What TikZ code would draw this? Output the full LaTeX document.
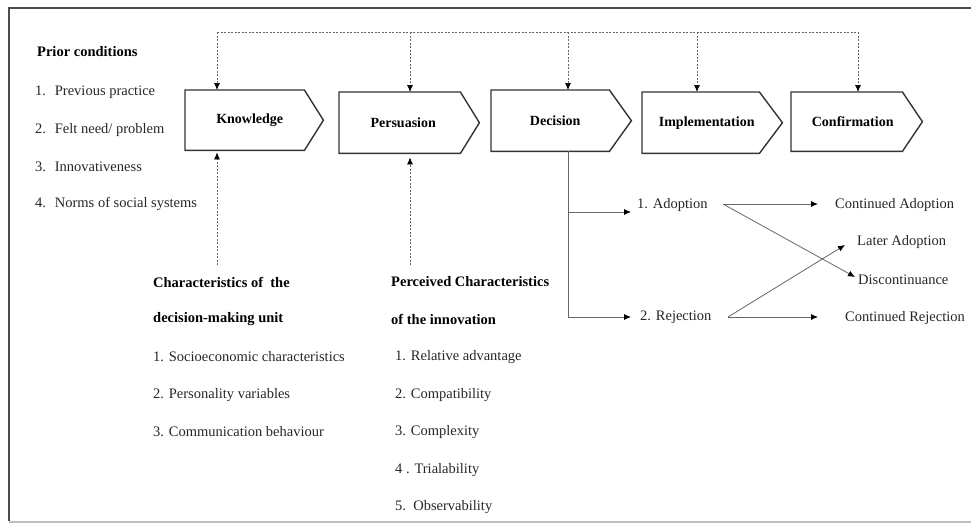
\documentclass[tikz,border=0pt]{standalone}
\usepackage{fontspec}
\setmainfont{Liberation Serif}
\usetikzlibrary{arrows.meta,calc}
\begin{document}
\begin{tikzpicture}[x=1pt,y=-1pt,
  txt/.style={anchor=west,inner sep=0pt,font=\fontsize{14.5}{17}\selectfont,text=black!85},
  hd/.style={anchor=west,inner sep=0pt,font=\fontsize{14.5}{17}\selectfont\bfseries,text=black},
  stage/.style={anchor=north west,inner sep=0pt,font=\fontsize{14}{17}\selectfont\bfseries},
  outline/.style={draw=black!80,line width=1.4pt,line join=miter},
  dl/.style={draw=black!60,line width=0.7pt,dash pattern=on 2pt off 1.5pt},
  sl/.style={draw=black!60,line width=0.8pt},
  tip/.style={-{Latex[length=7pt,width=6pt,black]}},
]
\useasboundingbox (0,0) rectangle (971,523);
% frame
\draw[black!70,line width=2.4pt] (971,8) -- (9,8) -- (9,521);
\draw[black!25,line width=2pt] (9,521.5) -- (971,521.5);

% stage boxes
\node[stage,minimum width=119pt,minimum height=60pt] (kn) at (185,90) {\hspace*{10pt}Knowledge};
\node[stage,minimum width=121pt,minimum height=61pt] (pe) at (339,92) {\hspace*{7pt}Persuasion};
\node[stage,minimum width=118pt,minimum height=61pt] (de) at (491,90) {\hspace*{10pt}Decision};
\node[stage,minimum width=117pt,minimum height=61pt] (im) at (642,92) {\hspace*{12pt}Implementation};
\node[stage,minimum width=111pt,minimum height=59pt] (co) at (791,92) {\hspace*{12pt}Confirmation};
\foreach \n/\t in {kn/19,pe/19,de/22,im/23,co/20}
  \draw[outline] (\n.north west) -- (\n.north east) -- ($(\n.east)+(\t,0)$) -- (\n.south east) -- (\n.south west) -- cycle;

% prior conditions
\node[hd] (pc) at (37,52) {Prior conditions};
\node[txt] (pc1) at (35,92) {1.\hspace{4pt} Previous practice};
\node[txt] (pc2) at (35,130) {2.\hspace{4pt} Felt need/ problem};
\node[txt] (pc3) at (35,167) {3.\hspace{4pt} Innovativeness};
\node[txt] (pc4) at (35,204) {4.\hspace{4pt} Norms of social systems};

% decision-making unit
\node[hd] (du0) at (153,282) {Characteristics of\ \ the};
\node[hd] (du1) at (153,319) {decision-making unit};
\node[txt] (du2) at (153,357) {1. Socioeconomic characteristics};
\node[txt] (du3) at (153,395) {2. Personality variables};
\node[txt] (du4) at (153,432) {3. Communication behaviour};

% perceived characteristics
\node[hd] (pk0) at (391,282) {Perceived Characteristics};
\node[hd] (pk1) at (391,319) {of the innovation};
\node[txt] (pk2) at (395,357) {1. Relative advantage};
\node[txt] (pk3) at (395,395) {2. Compatibility};
\node[txt] (pk4) at (395,432) {3. Complexity};
\node[txt] (pk5) at (395,470) {4 . Trialability};
\node[txt] (pk6) at (395,507) {5.\ \ Observability};

% outcomes
\node[txt] (ad) at (637,205) {1. Adoption};
\node[txt] (rj) at (640,317) {2. Rejection};
\node[txt] (ca) at (835,205) {Continued Adoption};
\node[txt] (la) at (857,242) {Later Adoption};
\node[txt] (dc) at (858,280) {Discontinuance};
\node[txt] (cr) at (845,318) {Continued Rejection};

% top dashed feedback
\coordinate (t1) at (217,32);
\coordinate (t2) at (410,32);
\coordinate (t3) at (568,32);
\coordinate (t4) at (697,32);
\coordinate (t5) at (858,32);
\draw[dl] (t1) -- (t5);
\draw[dl,tip] (t1) -- (t1 |- kn.north);
\draw[dl,tip] (t2) -- (t2 |- pe.north);
\draw[dl,tip] (t3) -- (t3 |- de.north);
\draw[dl,tip] (t4) -- (t4 |- im.north);
\draw[dl,tip] (t5) -- (t5 |- co.north);

% bottom dashed influences
\coordinate (b1) at (217,265);
\coordinate (b2) at (410,265);
\draw[dl,tip] (b1) -- ($(b1 |- kn.south)+(0,2)$);
\draw[dl,tip] (b2) -- ($(b2 |- pe.south)+(0,4)$);

% decision branches
\coordinate (d0) at (568,151);
\coordinate (d1) at (568,212);
\coordinate (d2) at (568,317);
\draw[sl] (d0) -- (d2);
\draw[sl,tip] (d1) -- ($(ad.west)+(-6,7)$);
\draw[sl,tip] (d2) -- ($(rj.west)+(-9,0)$);

% consequences
\coordinate (as) at (723,204);
\coordinate (rs) at (728,317);
\draw[sl,tip] (as) -- ($(ca.west)+(-17,-1)$);
\draw[sl,tip] (as) -- ($(dc.west)+(-3,-3)$);
\draw[sl,tip] (rs) -- ($(la.west)+(-12,3)$);
\draw[sl,tip] (rs) -- ($(cr.west)+(-27,-1)$);
\end{tikzpicture}
\end{document}
